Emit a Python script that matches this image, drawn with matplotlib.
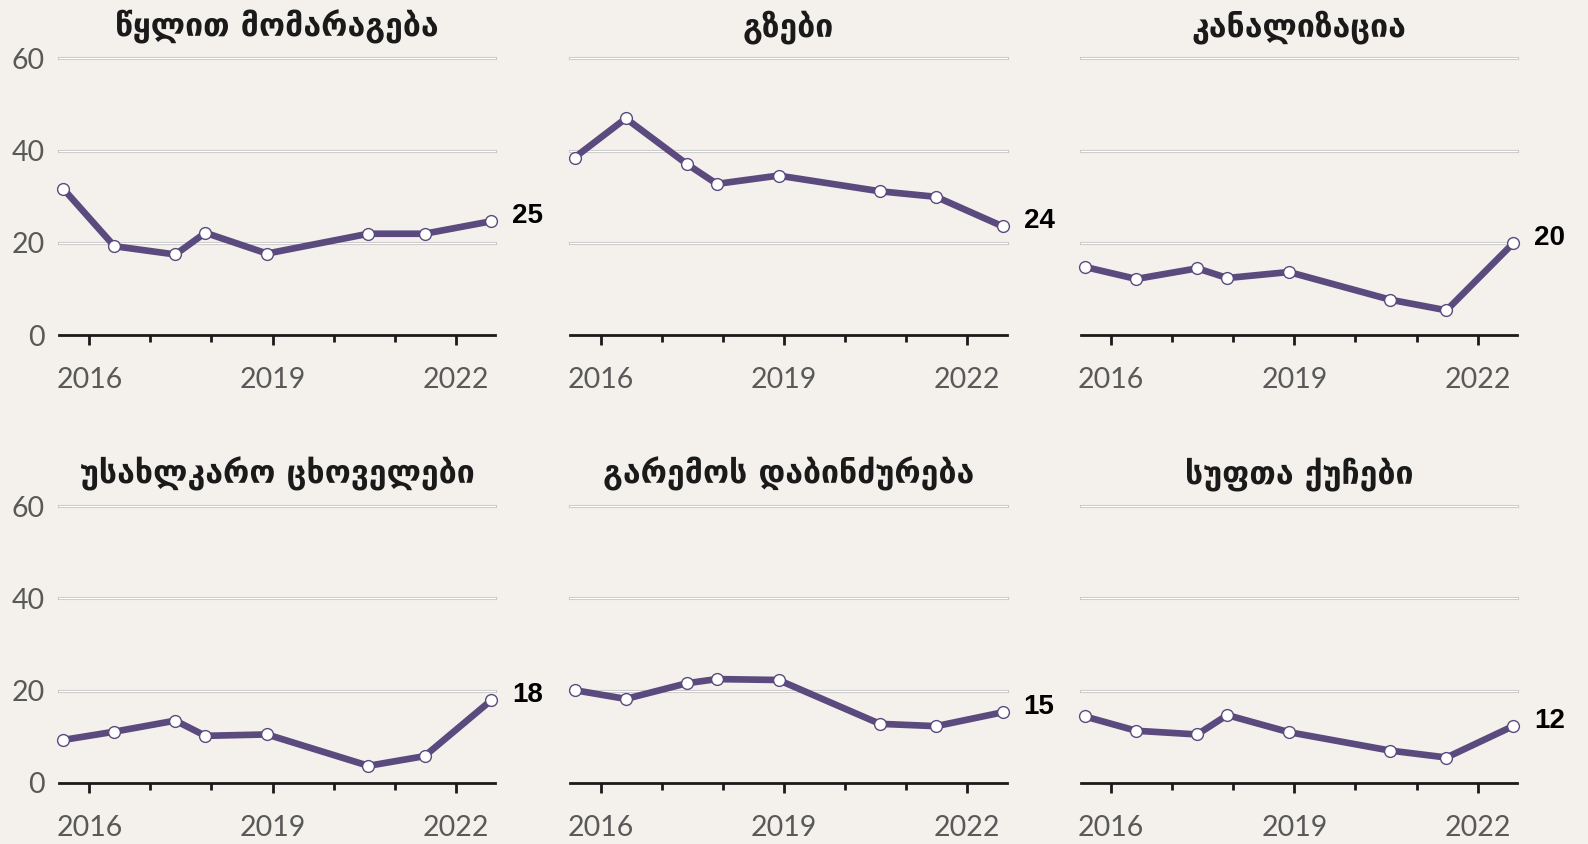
import matplotlib.pyplot as plt
from matplotlib.ticker import FixedLocator

# survey dates (fractional years), shared by all panels
survey_dates = [2015.57, 2016.41, 2017.41, 2017.90, 2018.91, 2020.57, 2021.49, 2022.58]

titles = [
    "წყლით მომარაგება",
    "გზები",
    "კანალიზაცია",
    "უსახლკარო ცხოველები",
    "გარემოს დაბინძურება",
    "სუფთა ქუჩები",
]

water = [31.8, 19.3, 17.5, 22.2, 17.7, 22.0, 22.0, 24.7]
roads = [38.5, 47.0, 37.1, 32.8, 34.6, 31.2, 30.0, 23.6]
sewage = [14.8, 12.2, 14.5, 12.4, 13.7, 7.7, 5.4, 19.9]
stray_animals = [9.3, 11.1, 13.5, 10.2, 10.5, 3.7, 5.8, 17.9]
pollution = [20.1, 18.2, 21.6, 22.5, 22.3, 12.8, 12.3, 15.3]
clean_streets = [14.4, 11.3, 10.5, 14.7, 11.0, 7.0, 5.5, 12.3]

end_labels = ["25", "24", "20", "18", "15", "12"]
series = [water, roads, sewage, stray_animals, pollution, clean_streets]

y_ticks = [0, 20, 40, 60]
year_labels = [2016, 2019, 2022]
minor_years = [2017, 2018, 2020, 2021]

BG = "#f4f1ec"
PURPLE = "#5b4a7e"
TICK_COL = "#595959"

fig = plt.figure(figsize=(15.88, 8.44), dpi=100, facecolor=BG)

lefts = [0.0370, 0.3591, 0.6805]
bottoms = [0.6028, 0.0724]
w, h = 0.2750, 0.3280

for i, (title, vals, lab) in enumerate(zip(titles, series, end_labels)):
    row, col = divmod(i, 3)
    ax = fig.add_axes([lefts[col], bottoms[row], w, h])
    ax.set_facecolor(BG)

    for yv in y_ticks[1:]:
        ax.axhline(yv, color="#c6c6c6", lw=2.2, zorder=1, clip_on=False)
        ax.axhline(yv, color="white", lw=0.9, zorder=1, clip_on=False)

    ax.plot(survey_dates, vals, color=PURPLE, lw=4.8, zorder=3,
            marker="o", ms=8.5, mfc="white", mec=PURPLE, mew=1.0,
            solid_capstyle="round", clip_on=False)

    ax.annotate(lab, (survey_dates[-1], vals[-1]), xytext=(15, 4),
                textcoords="offset points", va="center", ha="left",
                fontsize=20, fontweight="bold", family="Liberation Sans",
                color="black", annotation_clip=False)

    ax.set_xlim(2015.5, 2022.65)
    ax.set_ylim(0, 60)

    for s in ["top", "right", "left"]:
        ax.spines[s].set_visible(False)
    ax.spines["bottom"].set_color("#1a1a1a")
    ax.spines["bottom"].set_linewidth(2.0)
    ax.spines["bottom"].set_zorder(4)

    ax.xaxis.set_major_locator(FixedLocator(year_labels))
    ax.xaxis.set_minor_locator(FixedLocator(minor_years))
    ax.set_xticklabels([str(y) for y in year_labels])
    ax.tick_params(axis="x", which="major", length=7, width=2, color="#1a1a1a",
                   pad=16, labelsize=20.5, labelcolor=TICK_COL)
    ax.tick_params(axis="x", which="minor", length=5, width=2, color="#1a1a1a")
    for t in ax.get_xticklabels():
        t.set_family("Lato")

    ax.set_yticks(y_ticks)
    if col == 0:
        ax.tick_params(axis="y", length=0, pad=10, labelsize=20.5, labelcolor=TICK_COL)
        for t in ax.get_yticklabels():
            t.set_family("Lato")
    else:
        ax.tick_params(axis="y", length=0, labelleft=False)

    ax.set_title(title, fontsize=23, fontweight="bold", family="DejaVu Sans",
                 color="#1a1a1a", pad=16)

fig.savefig("out.png", dpi=100, facecolor=BG)
